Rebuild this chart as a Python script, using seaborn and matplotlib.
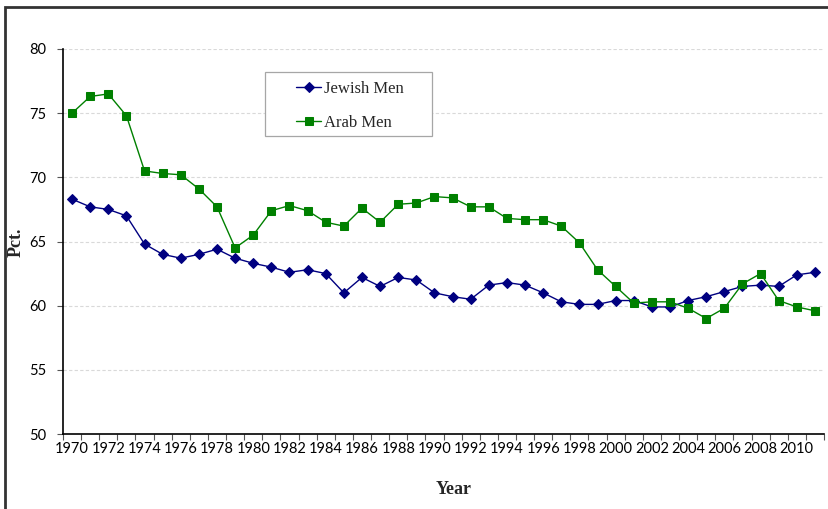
import numpy as np
import pandas as pd
import matplotlib
matplotlib.use("Agg")
import matplotlib.pyplot as plt
from matplotlib.patches import Rectangle
import seaborn as sns

sns.set_style("white")

# Data.
years = list(range(1970, 2012))
jewish_men = [68.3, 67.7, 67.5, 67.0, 64.8, 64.0, 63.7, 64.0, 64.4, 63.7,
              63.3, 63.0, 62.6, 62.8, 62.5, 61.0, 62.2, 61.5, 62.2, 62.0,
              61.0, 60.7, 60.5, 61.6, 61.8, 61.6, 61.0, 60.3, 60.1, 60.1,
              60.4, 60.4, 59.9, 59.9, 60.4, 60.7, 61.1, 61.5, 61.6, 61.5,
              62.4, 62.6]
arab_men = [75.0, 76.3, 76.5, 74.8, 70.5, 70.3, 70.2, 69.1, 67.7, 64.5,
            65.5, 67.4, 67.8, 67.4, 66.5, 66.2, 67.6, 66.5, 67.9, 68.0,
            68.5, 68.4, 67.7, 67.7, 66.8, 66.7, 66.7, 66.2, 64.9, 62.8,
            61.5, 60.2, 60.3, 60.3, 59.8, 59.0, 59.8, 61.7, 62.5, 60.4,
            59.9, 59.6]
y_ticks = [50, 55, 60, 65, 70, 75, 80]
x_labels = list(range(1970, 2011, 2))

df = pd.DataFrame({"Year": years, "Jewish Men": jewish_men, "Arab Men": arab_men})

W, H = 829, 509
fig = plt.figure(figsize = (W / 100, H / 100), dpi = 100)
ax = fig.add_axes([63 / W, 1 - 434 / H, (824 - 63) / W, (434 - 49) / H])

# Outer chart frame (cropped at right and bottom).
fig.patches.append(Rectangle((5 / W, -0.1), 1.0, 1 - 7 / H + 0.1, transform = fig.transFigure,
                             fill = False, edgecolor = "#333333", linewidth = 2.0))

sns.lineplot(data = df, x = "Year", y = "Jewish Men", ax = ax, color = "#000080", marker = "D",
             markersize = 5, markeredgecolor = "#000080", linewidth = 1.0, label = "Jewish Men")
sns.lineplot(data = df, x = "Year", y = "Arab Men", ax = ax, color = "#008000", marker = "s",
             markersize = 6, markeredgecolor = "#008000", linewidth = 1.0, label = "Arab Men")

ax.set_xlim(years[0] - 0.5, years[-1] + 0.5)
ax.set_ylim(50, 80)
ax.set_yticks(y_ticks)
ax.set_xticks(x_labels)
ax.set_xticklabels([str(y) for y in x_labels])
ax.set_xticks(np.arange(years[0] - 0.5, years[-1] + 1.0, 1.0), minor = True)

ax.tick_params(axis = "x", which = "major", length = 0, pad = 6)
ax.tick_params(axis = "x", which = "minor", length = 4, width = 0.8, color = "#555555", direction = "out", bottom = True)
ax.tick_params(axis = "y", length = 4, width = 0.8, color = "#555555", direction = "out", left = True, pad = 8)
for lab in ax.get_xticklabels() + ax.get_yticklabels():
    lab.set_fontfamily("Lato")
    lab.set_fontsize(10.5)
    lab.set_color("black")

ax.yaxis.grid(True, color = "#d9d9d9", linestyle = (0, (3, 2)), linewidth = 0.8)
ax.xaxis.grid(False)
for side in ["top", "right"]:
    ax.spines[side].set_visible(False)
for side in ["left", "bottom"]:
    ax.spines[side].set_color("black")
    ax.spines[side].set_linewidth(1.2)

ax.set_ylabel("")
ax.set_xlabel("")
fig.text(16 / W, 1 - 242 / H, "Pct.", rotation = 90, ha = "center", va = "center",
         family = "Liberation Serif", weight = "bold", fontsize = 13)
fig.text(454 / W, 1 - 490 / H, "Year", ha = "center", va = "center",
         family = "Liberation Serif", weight = "bold", fontsize = 13)

# Legend box drawn like the Excel one: wide frame, entries centred inside.
leg = ax.legend(loc = "upper left", bbox_to_anchor = (296 / W, 1 - 81 / H), bbox_transform = fig.transFigure,
                frameon = False, handlelength = 1.5, handletextpad = 0.2, labelspacing = 1.1,
                borderpad = 0, borderaxespad = 0,
                prop = {"family": "Liberation Serif", "size": 12})
ax.add_patch(Rectangle((265 / W, 1 - 136 / H), (432 - 265) / W, (136 - 72) / H,
                       transform = fig.transFigure, fill = True, facecolor = "white",
                       edgecolor = "#a6a6a6", linewidth = 0.9, zorder = 4, clip_on = False))
leg.set_zorder(6)

fig.savefig("out.png", dpi = 100)
